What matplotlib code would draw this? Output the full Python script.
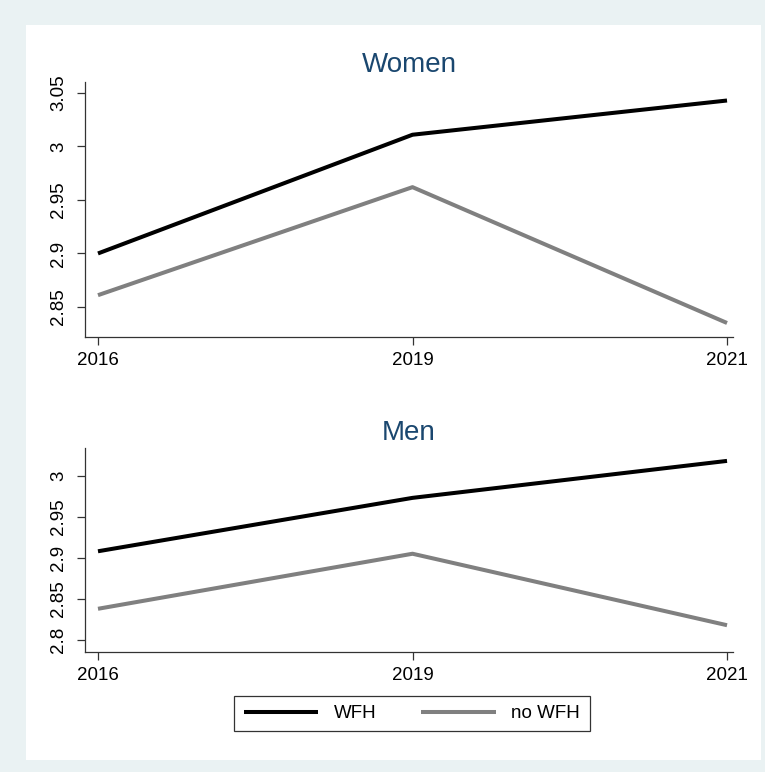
import matplotlib.pyplot as plt
from matplotlib.patches import Rectangle

years = ["2016", "2019", "2021"]
women_wfh = [2.900, 3.011, 3.043]
women_nowfh = [2.861, 2.962, 2.835]
men_wfh = [2.908, 2.973, 3.018]
men_nowfh = [2.838, 2.905, 2.818]

women_ticks = [2.85, 2.9, 2.95, 3.0, 3.05]
women_ticklabels = ["2.85", "2.9", "2.95", "3", "3.05"]
men_ticks = [2.8, 2.85, 2.9, 2.95, 3.0]
men_ticklabels = ["2.8", "2.85", "2.9", "2.95", "3"]

plt.rcParams["font.family"] = ["Liberation Sans", "DejaVu Sans"]

fig = plt.figure(figsize=(7.65, 7.72), dpi=100, facecolor="#EAF2F3")
# white inner region, like Stata's graph region
fig.patches.append(Rectangle((26 / 765, 1 - 760 / 772), 735 / 765, 735 / 772,
                             transform=fig.transFigure, facecolor="white",
                             edgecolor="none", zorder=-5))

ax1 = fig.add_axes([85 / 765, 1 - 337 / 772, 648 / 765, 255 / 772])
ax2 = fig.add_axes([85 / 765, 1 - 652 / 772, 648 / 765, 204 / 772])

x = range(len(years))
panels = [
    (ax1, "Women", women_wfh, women_nowfh, women_ticks, women_ticklabels, (2.8219, 3.0603), 7),
    (ax2, "Men", men_wfh, men_nowfh, men_ticks, men_ticklabels, (2.7854, 3.0337), 5.5),
]
for ax, title, wfh, nowfh, ticks, labels, ylim, tpad in panels:
    ax.set_facecolor("white")
    ax.plot(x, wfh, color="black", lw=2.9, solid_capstyle="butt", label="WFH")
    ax.plot(x, nowfh, color="#808080", lw=2.9, solid_capstyle="butt", label="no WFH")
    ax.set_xlim(-0.0413, 2.019)
    ax.set_ylim(*ylim)
    ax.set_xticks(list(x))
    ax.set_xticklabels(years)
    ax.set_yticks(ticks)
    ax.set_yticklabels(labels, rotation=90, va="center")
    ax.spines["top"].set_visible(False)
    ax.spines["right"].set_visible(False)
    for s in ("left", "bottom"):
        ax.spines[s].set_color("#333333")
        ax.spines[s].set_linewidth(0.9)
    ax.tick_params(axis="both", labelsize=13.5, length=6, width=0.9, color="#333333")
    ax.tick_params(axis="y", pad=7)
    ax.tick_params(axis="x", pad=5)
    ax.set_title(title, fontsize=20, color="#1a476f", pad=tpad)

handles, leg_labels = ax2.get_legend_handles_labels()
leg = fig.legend(handles, leg_labels, loc="center", bbox_to_anchor=(412 / 765, 1 - 713.5 / 772),
                 ncol=2, fontsize=13.5, frameon=True, fancybox=False, edgecolor="black",
                 handlelength=3.95, columnspacing=2.4, handletextpad=0.85, borderpad=0.5,
                 borderaxespad=0)
leg.get_frame().set_linewidth(0.9)

fig.savefig("out.png", dpi=100, facecolor=fig.get_facecolor())
